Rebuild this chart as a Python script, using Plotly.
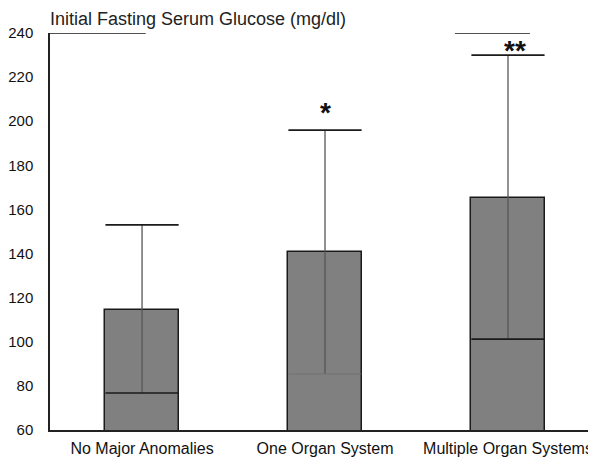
import plotly.graph_objects as go

categories = ["No Major Anomalies", "One Organ System", "Multiple Organ Systems"]
upper_box = [114.5, 140.7, 165.3]
median = [76.8, 85.4, 101.2]
whisker_top = [153, 196, 230]
sig_marks = ["", "*", "**"]
bracket_level = 240
yticks = [60, 80, 100, 120, 140, 160, 180, 200, 220, 240]

xs = list(range(len(categories)))
half = 0.2
FONT = "Liberation Sans, Arial, sans-serif"

fig = go.Figure()
fig.add_trace(go.Bar(
    x=xs, y=upper_box, width=2 * half,
    marker=dict(color="#808080", line=dict(color="#1a1a1a", width=1.5)),
    showlegend=False, hoverinfo="skip"))

for i in xs:
    fig.add_trace(go.Scatter(x=[i, i], y=[median[i], whisker_top[i]], mode="lines",
                             line=dict(color="#555555", width=1.3), showlegend=False, hoverinfo="skip"))
    med_color = "#1a1a1a" if i != 1 else "#6e6e6e"
    fig.add_trace(go.Scatter(x=[i - half, i + half], y=[median[i], median[i]], mode="lines",
                             line=dict(color=med_color, width=1.6 if i != 1 else 0.8),
                             showlegend=False, hoverinfo="skip"))
    fig.add_trace(go.Scatter(x=[i - half, i + half], y=[whisker_top[i], whisker_top[i]], mode="lines",
                             line=dict(color="#1a1a1a", width=1.8), showlegend=False, hoverinfo="skip"))

# significance marks
fig.add_annotation(x=1, y=whisker_top[1], text="<b>" + sig_marks[1] + "</b>", showarrow=False,
                   yanchor="bottom", yshift=0,
                   font=dict(family=FONT, size=28, color="#111111"))
fig.add_annotation(x=2.04, y=(whisker_top[2] + bracket_level) / 2, text="<b>" + sig_marks[2] + "</b>",
                   showarrow=False, yanchor="middle", yshift=-6,
                   font=dict(family=FONT, size=28, color="#111111"))

# comparison bracket segments at top
fig.add_trace(go.Scatter(x=[-0.503, 0.02], y=[bracket_level, bracket_level], mode="lines",
                         line=dict(color="#1a1a1a", width=1.6), showlegend=False, hoverinfo="skip"))
fig.add_trace(go.Scatter(x=[1.71, 2.12], y=[bracket_level, bracket_level], mode="lines",
                         line=dict(color="#1a1a1a", width=1.6), showlegend=False, hoverinfo="skip"))

fig.add_annotation(xref="paper", yref="paper", x=0, y=1, xanchor="left", yanchor="bottom",
                   xshift=-2, yshift=2, text="Initial Fasting Serum Glucose (mg/dl)", showarrow=False,
                   font=dict(family=FONT, size=18, color="#222222"))

# page body has an 8px margin, so the figure is sized and offset to fit the 596x459 window
fig.update_layout(
    width=588, height=451,
    margin=dict(l=42, r=0, t=25, b=29),
    paper_bgcolor="white", plot_bgcolor="white",
    bargap=0,
    xaxis=dict(range=[-0.503, 2.481], tickmode="array", tickvals=xs, ticktext=categories,
               showgrid=False, zeroline=False, showline=True, linecolor="#222222", linewidth=1.5,
               ticks="", automargin=False, ticklabelstandoff=3,
               tickfont=dict(family=FONT, size=16, color="#111111"), fixedrange=True),
    yaxis=dict(range=[60, 240], tickmode="array", tickvals=yticks, showgrid=False, zeroline=False,
               showline=True, linecolor="#222222", linewidth=1.5, ticks="", automargin=False,
               ticklabelstandoff=12,
               tickfont=dict(family=FONT, size=15, color="#111111"), fixedrange=True),
)

fig.write_html("out.html")
